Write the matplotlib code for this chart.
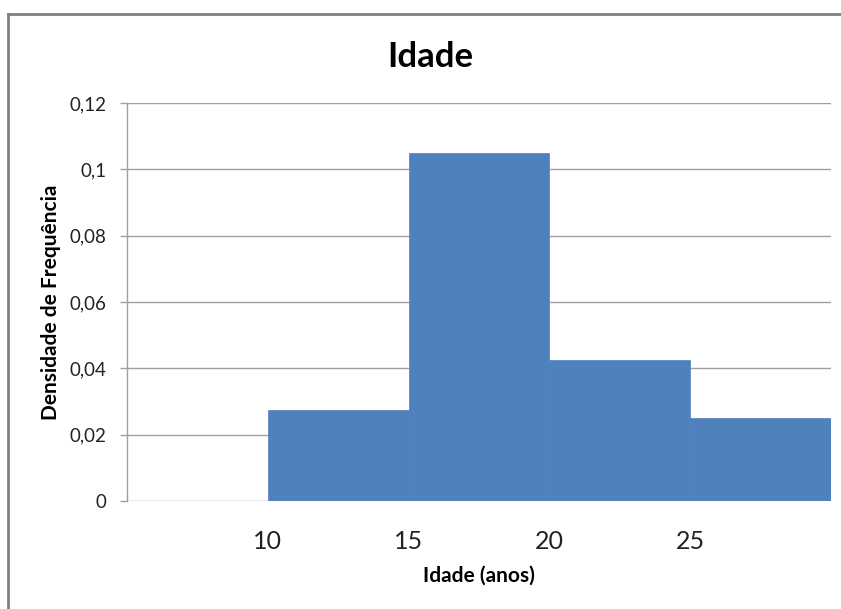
import matplotlib
matplotlib.use("Agg")
import matplotlib.pyplot as plt
from matplotlib.lines import Line2D
from matplotlib.ticker import FuncFormatter

# Data
bin_edges = [10, 15, 20, 25, 30]
densities = [0.0275, 0.105, 0.0425, 0.025]
x_ticks = [10, 15, 20, 25]
y_ticks = [0, 0.02, 0.04, 0.06, 0.08, 0.10, 0.12]
title = "Idade"
x_label = "Idade (anos)"
y_label = "Densidade de Frequência"

plt.rcParams['font.family'] = ['Lato', 'DejaVu Sans']

fig = plt.figure(figsize=(8.41, 6.09), dpi=100)
ax = fig.add_axes([127/841, 1 - 501/609, (831 - 127)/841, (501 - 103)/609])

lefts = bin_edges[:-1]
widths = [b - a for a, b in zip(bin_edges[:-1], bin_edges[1:])]
ax.bar(lefts, densities, width=widths, align='edge', color='#4F81BD',
       edgecolor='#4F81BD', linewidth=0.5, zorder=3)

ax.set_xlim(5, 30)
ax.set_ylim(0, 0.12)
ax.set_yticks(y_ticks)
ax.yaxis.set_major_formatter(FuncFormatter(
    lambda v, p: "0" if v == 0 else f"{v:.2f}".rstrip('0').replace('.', ',')))
ax.set_xticks(x_ticks)
ax.set_xticklabels([str(t) for t in x_ticks])

ax.grid(axis='y', color='#A0A0A0', linewidth=1.0, zorder=0)
for s in ['top', 'right', 'bottom']:
    ax.spines[s].set_visible(False)
ax.spines['left'].set_color('#A0A0A0')
ax.spines['left'].set_linewidth(1.0)

ax.tick_params(axis='y', length=5, width=1.0, color='#A0A0A0', pad=10,
               labelsize=13.5, labelcolor='#222222')
ax.tick_params(axis='x', length=0, pad=21, labelsize=18, labelcolor='#222222')

fig.text(430/841, 1 - 57/609, title, fontsize=25, fontweight='bold',
         ha='center', va='center')
ax.set_xlabel(x_label, fontsize=15, fontweight='bold', labelpad=9)
ax.set_ylabel(y_label, fontsize=15, fontweight='bold', labelpad=6)

# Chart border (left and top visible in reference)
fig.add_artist(Line2D([8/841, 8/841], [0, 1 - 14/609], color='#808080',
                      linewidth=2.0, transform=fig.transFigure))
fig.add_artist(Line2D([8/841, 1], [1 - 14/609, 1 - 14/609], color='#808080',
                      linewidth=2.0, transform=fig.transFigure))

fig.savefig("out.png", dpi=100, facecolor='white')
